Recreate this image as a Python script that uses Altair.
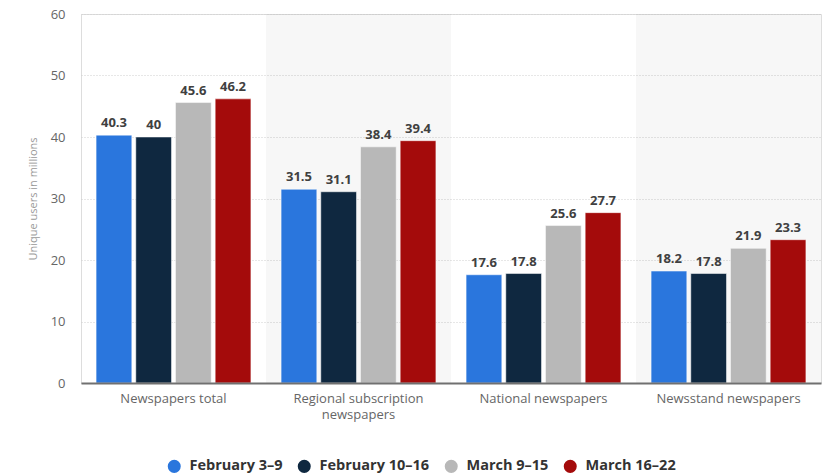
import altair as alt
import pandas as pd

# Weekly unique newspaper users (millions) by newspaper type
categories = [
    "Newspapers total",
    "Regional subscription newspapers",
    "National newspapers",
    "Newsstand newspapers",
]
periods = ["February 3–9", "February 10–16", "March 9–15", "March 16–22"]
feb_3_9 = [40.3, 31.5, 17.6, 18.2]
feb_10_16 = [40.0, 31.1, 17.8, 17.8]
mar_9_15 = [45.6, 38.4, 25.6, 21.9]
mar_16_22 = [46.2, 39.4, 27.7, 23.3]
colors = ["#2a76dd", "#0f2840", "#b8b8b8", "#a40b0b"]
shaded = [categories[1], categories[3]]

rows = []
for period, vals in zip(periods, [feb_3_9, feb_10_16, mar_9_15, mar_16_22]):
    for cat, v in zip(categories, vals):
        rows.append({"category": cat, "period": period, "value": v})
df = pd.DataFrame(rows)
shade_df = pd.DataFrame({"category": shaded})

W, H = 740, 369
FONT = "Open Sans"

x_enc = alt.X(
    "category:N",
    sort=categories,
    scale=alt.Scale(paddingInner=0, paddingOuter=0),
    axis=alt.Axis(
        title=None,
        labelAngle=0,
        labelColor="#666666",
        labelFontSize=13,
        labelFont=FONT,
        labelPadding=9,
        labelLineHeight=16,
        ticks=False,
        domainColor="#707070",
        domainWidth=2,
        labelExpr="datum.label == 'Regional subscription newspapers' ? ['Regional subscription', 'newspapers'] : datum.label",
    ),
)

y_scale = alt.Scale(domain=[0, 60])
y_axis = alt.Axis(
    values=[0, 10, 20, 30, 40, 50, 60],
    title="Unique users in millions",
    titleColor="#999999",
    titleFontSize=11,
    titleFontWeight="normal",
    titleFont=FONT,
    titlePadding=12,
    labelColor="#666666",
    labelFontSize=13,
    labelFont=FONT,
    labelPadding=16,
    domain=False,
    ticks=False,
    gridColor="#cfcfcf",
    gridDash=[1, 2],
    gridWidth=1,
)

# light background bands behind alternate categories
shade = (
    alt.Chart(shade_df)
    .mark_rect(color="#000000", opacity=0.03)
    .encode(x=x_enc, y=alt.value(0), y2=alt.value(H))
)

offset = alt.XOffset(
    "period:N",
    sort=periods,
    scale=alt.Scale(paddingInner=0.1, paddingOuter=0.38),
)

bars = (
    alt.Chart(df)
    .mark_bar(stroke="white", strokeWidth=0.5)
    .encode(
        x=x_enc,
        xOffset=offset,
        y=alt.Y("value:Q", scale=y_scale, axis=y_axis),
        color=alt.Color(
            "period:N",
            sort=periods,
            scale=alt.Scale(domain=periods, range=colors),
            legend=alt.Legend(
                title=None,
                orient="none",
                legendX=86,
                legendY=445,
                direction="horizontal",
                symbolType="circle",
                symbolSize=170,
                symbolStrokeWidth=0,
                labelFontSize=14.5,
                labelFontWeight="bold",
                labelColor="#333333",
                labelFont=FONT,
                columnPadding=14,
                labelOffset=8,
            ),
        ),
    )
)

labels = (
    alt.Chart(df)
    .mark_text(
        baseline="bottom",
        dy=-5,
        fontSize=13,
        fontWeight="bold",
        color="#404040",
        font=FONT,
    )
    .encode(
        x=x_enc,
        xOffset=offset,
        y=alt.Y("value:Q", scale=y_scale, axis=y_axis),
        text=alt.Text("value:Q", format=".1~f"),
    )
)

chart = (
    alt.layer(shade, bars, labels)
    .properties(
        width=W,
        height=H,
        autosize=alt.AutoSizeParams(type="none"),
        padding={"left": 81, "top": 14, "right": 11, "bottom": 91},
    )
    .configure_view(stroke=None)
    .configure(background="white")
)

chart.save("out.html", embed_options={"renderer": "svg", "actions": False})
